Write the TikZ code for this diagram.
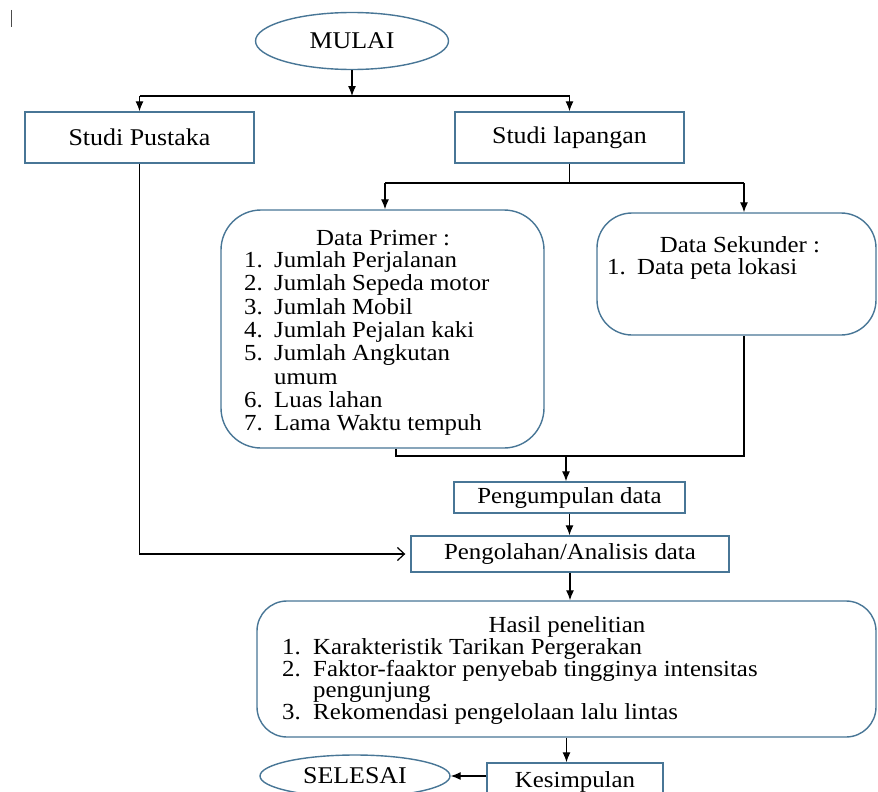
\documentclass[tikz,border=0pt]{standalone}
\usepackage{fontspec}
\setmainfont{Liberation Serif}[FakeStretch=1.08]
\usetikzlibrary{arrows.meta,shapes.geometric}
\definecolor{bord}{RGB}{72,118,150}
\begin{document}
\begin{tikzpicture}[x=1pt,y=-1pt,
  box/.style={draw=bord,line width=1.4pt,fill=white,inner sep=0pt,font=\fontsize{23}{24}\selectfont},
  ell/.style={ellipse,draw=bord,line width=1.4pt,fill=white,inner sep=0pt,font=\fontsize{24}{25}\selectfont},
  conn/.style={line width=1.2pt,black},
  arr/.style={conn,-{Latex[length=10pt,width=8pt]}},
  txt/.style={inner sep=0pt,font=\fontsize{23}{24}\selectfont},
  ]
\useasboundingbox (0,0) rectangle (878,792);
\draw[line width=1pt,black!70] (11,10) -- (11,27);

% shapes
\node[ell,minimum width=193pt,minimum height=57pt] (mulai) at (352,41) {MULAI};
\node[box,minimum width=229pt,minimum height=51pt,font=\fontsize{24}{25}\selectfont] (pustaka) at (139.5,137.5) {Studi Pustaka};
\node[box,minimum width=229pt,minimum height=51pt,font=\fontsize{24}{25}\selectfont] (lapangan) at (569.5,137.5) {Studi lapangan};
\node[box,rounded corners=40pt,minimum width=323pt,minimum height=238pt] (primer) at (382.5,329) {};
\node[box,rounded corners=35pt,minimum width=279pt,minimum height=122pt] (sekunder) at (736.5,274) {};
\node[box,minimum width=231pt,minimum height=31pt] (kumpul) at (569.5,497.5) {Pengumpulan data};
\node[box,minimum width=318pt,minimum height=36pt] (olah) at (570,554) {Pengolahan/Analisis data};
\node[box,rounded corners=30pt,minimum width=619pt,minimum height=136pt] (hasil) at (566.5,669) {};
\node[box,minimum width=176pt,minimum height=38pt] (simpul) at (575,782) {Kesimpulan};
\node[ell,minimum width=190pt,minimum height=42pt] (selesai) at (355,776) {SELESAI};

% Data Primer text
\node[txt,anchor=base] (ptitle) at (383,245) {Data Primer :};
\node[txt,anchor=base west] (pn1) at (244,267) {1.};
\node[txt,anchor=base west] (pt1) at (274,267) {Jumlah Perjalanan};
\node[txt,anchor=base west] (pn2) at (244,290) {2.};
\node[txt,anchor=base west] (pt2) at (274,290) {Jumlah Sepeda motor};
\node[txt,anchor=base west] (pn3) at (244,314) {3.};
\node[txt,anchor=base west] (pt3) at (274,314) {Jumlah Mobil};
\node[txt,anchor=base west] (pn4) at (244,337) {4.};
\node[txt,anchor=base west] (pt4) at (274,337) {Jumlah Pejalan kaki};
\node[txt,anchor=base west] (pn5) at (244,360) {5.};
\node[txt,anchor=base west] (pt5) at (274,360) {Jumlah Angkutan};
\node[txt,anchor=base west] (pt5b) at (274,384) {umum};
\node[txt,anchor=base west] (pn6) at (244,407) {6.};
\node[txt,anchor=base west] (pt6) at (274,407) {Luas lahan};
\node[txt,anchor=base west] (pn7) at (244,430) {7.};
\node[txt,anchor=base west] (pt7) at (274,430) {Lama Waktu tempuh};

% Data Sekunder text
\node[txt,anchor=base] (stitle) at (740,252) {Data Sekunder :};
\node[txt,anchor=base west] (sn1) at (607,274) {1.};
\node[txt,anchor=base west] (st1) at (637,274) {Data peta lokasi};

% Hasil text
\node[txt,anchor=base] (htitle) at (567,632) {Hasil penelitian};
\node[txt,anchor=base west] (hn1) at (282,654) {1.};
\node[txt,anchor=base west] (ht1) at (313,654) {Karakteristik Tarikan Pergerakan};
\node[txt,anchor=base west] (hn2) at (282,676) {2.};
\node[txt,anchor=base west] (ht2) at (313,676) {Faktor-faaktor penyebab tingginya intensitas};
\node[txt,anchor=base west] (ht2b) at (313,697) {pengunjung};
\node[txt,anchor=base west] (hn3) at (282,719) {3.};
\node[txt,anchor=base west] (ht3) at (313,719) {Rekomendasi pengelolaan lalu lintas};

% connectors
\coordinate (j1) at (352,96);
\draw[arr] (mulai.south) -- (j1);
\draw[conn] (pustaka.north |- j1) -- (lapangan.north |- j1);
\draw[arr] (pustaka.north |- j1) -- (pustaka.north);
\draw[arr] (lapangan.north |- j1) -- (lapangan.north);

\coordinate (j2) at (569.5,183);
\coordinate (p1) at (385,183);
\coordinate (s1) at (744,183);
\draw[conn] (lapangan.south) -- (j2);
\draw[conn] (p1) -- (s1);
\draw[arr] (p1) -- (p1 |- primer.north);
\draw[arr] (s1) -- (s1 |- sekunder.north);

\coordinate (b1) at (396,456);
\coordinate (b2) at (744,456);
\coordinate (b3) at (566,456);
\draw[conn] (b1 |- primer.south) -- (b1) -- (b2) -- (b2 |- sekunder.south);
\draw[arr] (b3) -- (b3 |- kumpul.north);
\draw[arr] (kumpul.south) -- (kumpul.south |- olah.north);
\draw[conn,-{Straight Barb[length=7pt,width=13pt]}] (pustaka.south) |- ([xshift=-5pt]olah.west);
\draw[arr] (olah.south) -- (olah.south |- hasil.north);
\draw[arr] (hasil.south) -- (hasil.south |- simpul.north);
\draw[arr] (selesai.east -| simpul.west) -- (selesai.east);
\end{tikzpicture}
\end{document}
